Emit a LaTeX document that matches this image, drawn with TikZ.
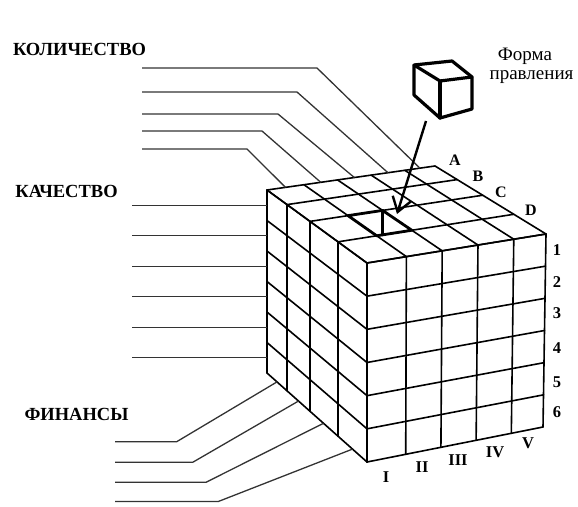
\documentclass[tikz,border=0pt]{standalone}
\usepackage{fontspec}
\setmainfont{Liberation Serif}
\usetikzlibrary{calc,arrows.meta,intersections}
\begin{document}
\begin{tikzpicture}[x=1pt,y=-1pt,
  grid/.style={line width=1.6pt,line join=round,line cap=round},
  lbl/.style={line width=1.3pt,draw=black!80,line join=round},
  icon/.style={line width=3.2pt,line join=round,line cap=round},
  hl/.style={line width=2.8pt,line join=round,line cap=round},
  big/.style={font=\fontsize{18.5}{20}\selectfont\bfseries,inner sep=0pt,anchor=base},
  letterlbl/.style={font=\fontsize{16}{18}\selectfont\bfseries,inner sep=0pt},
  numlbl/.style={font=\fontsize{16.5}{18}\selectfont\bfseries,inner sep=0pt},
  formlbl/.style={font=\fontsize{19}{21}\selectfont,inner sep=0pt,anchor=base}]
\useasboundingbox (0,0) rectangle (578,506);
% cube corners
\coordinate (FTL) at (367,263);
\coordinate (FTR) at (546,234);
\coordinate (FBL) at (367,462);
\coordinate (FBR) at (543,427);
\coordinate (BTL) at (267,190);
\coordinate (BBL) at (267,373);
\coordinate (BTR) at (435,166);
% top face
\foreach \u in {0,0.22,0.42,0.62,0.82,1}
  \draw[grid] ($(FTL)!\u!(FTR)$) -- ($(BTL)!\u!(BTR)$);
\foreach \w in {0,0.29,0.57,0.8,1}
  \draw[grid] ($(FTL)!\w!(BTL)$) -- ($(FTR)!\w!(BTR)$);
% front face
\foreach \u in {0,0.22,0.42,0.62,0.82,1}
  \draw[grid] ($(FTL)!\u!(FTR)$) -- ($(FBL)!\u!(FBR)$);
\foreach \v in {0,0.16667,0.33333,0.5,0.66667,0.83333,1}
  \draw[grid] ($(FTL)!\v!(FBL)$) -- ($(FTR)!\v!(FBR)$);
% left face
\foreach \w in {0,0.29,0.57,0.8,1}
  \draw[grid] ($(FTL)!\w!(BTL)$) -- ($(FBL)!\w!(BBL)$);
\foreach \v in {0,0.16667,0.33333,0.5,0.66667,0.83333,1}
  \draw[grid] ($(FTL)!\v!(FBL)$) -- ($(BTL)!\v!(BBL)$);
% highlighted cell (column II, row C)
\coordinate (fa) at ($(FTL)!0.22!(FTR)$);
\coordinate (fb) at ($(FTL)!0.42!(FTR)$);
\coordinate (ba) at ($(BTL)!0.22!(BTR)$);
\coordinate (bb) at ($(BTL)!0.42!(BTR)$);
\coordinate (hbl) at ($(fa)!0.57!(ba)$);
\coordinate (hbr) at ($(fb)!0.57!(bb)$);
\coordinate (hfl) at ($(fa)!0.29!(ba)$);
\coordinate (hfr) at ($(fb)!0.29!(bb)$);
\draw[hl] (hbl) -- (hbr) -- (hfr) -- (hfl) -- cycle;
\path[name path=fe] (hfl) -- (hfr);
\path[name path=vl] (hbr) -- ++(0,40);
\draw[hl,name intersections={of=fe and vl,by=hx}] (hbr) -- (hx);
% КОЛИЧЕСТВО lines
\draw[lbl] (142,68) -- (317,68) -- ($(BTL)!0.91!(BTR)$);
\draw[lbl] (142,92) -- (297,92) -- ($(BTL)!0.72!(BTR)$);
\draw[lbl] (142,114) -- (278,114) -- ($(BTL)!0.52!(BTR)$);
\draw[lbl] (142,131) -- (262,131) -- ($(BTL)!0.32!(BTR)$);
\draw[lbl] (142,149) -- (247,149) -- ($(BTL)!0.11!(BTR)$);
% КАЧЕСТВО lines
\foreach \v in {0.0833,0.25,0.4167,0.5833,0.75,0.9167}
  \draw[lbl] ($(BTL)!\v!(BBL)$) -- ++(-135,0);
% ФИНАНСЫ lines
\draw[lbl] (115,441.7) -- (176.7,441.7) -- ($(FBL)!0.9!(BBL)$);
\draw[lbl] (115,462.3) -- (192.7,462.3) -- ($(FBL)!0.685!(BBL)$);
\draw[lbl] (115,482.3) -- (206,482.3) -- ($(FBL)!0.435!(BBL)$);
\draw[lbl] (115,501.5) -- (218.3,501.5) -- ($(FBL)!0.145!(BBL)$);
% small cube icon
\coordinate (iA) at (414,65);
\coordinate (iB) at (452,61);
\coordinate (iC) at (472,77);
\coordinate (iD) at (440,81);
\coordinate (iE) at (472,109);
\coordinate (iF) at (440,118);
\coordinate (iG) at (414,95);
\draw[icon] (iA) -- (iB) -- (iC) -- (iE) -- (iF) -- (iG) -- cycle;
\draw[icon] (iA) -- (iD) -- (iC);
\draw[icon] (iD) -- (iF);
% arrow
\coordinate (arS) at (426,121);
\coordinate (arE) at (397,214);
\draw[line width=2.4pt,-{Straight Barb[length=14pt,width=19pt,line width=2.4pt]}] (arS) -- (arE);
% texts
\node[big] (kol) at (79.5,55) {КОЛИЧЕСТВО};
\node[big] (kach) at (66.5,197) {КАЧЕСТВО};
\node[big] (fin) at (76.5,420.5) {ФИНАНСЫ};
\node[formlbl] (forma) at (525,60.5) {Форма};
\node[formlbl] (prav) at (531.5,79) {правления};
\node[letterlbl] (lA) at (455,160) {A};
\node[letterlbl] (lB) at (478,176) {B};
\node[letterlbl] (lC) at (501,192.5) {C};
\node[letterlbl] (lD) at (531,210) {D};
\node[numlbl] (n1) at (557,250) {1};
\node[numlbl] (n2) at (557,282) {2};
\node[numlbl] (n3) at (557,313) {3};
\node[numlbl] (n4) at (557,348) {4};
\node[numlbl] (n5) at (557,382) {5};
\node[numlbl] (n6) at (557,412) {6};
\node[numlbl] (r1) at (386,477) {I};
\node[numlbl] (r2) at (422,467) {II};
\node[numlbl] (r3) at (458,460) {III};
\node[numlbl] (r4) at (495,452) {IV};
\node[numlbl] (r5) at (528,443) {V};
\end{tikzpicture}
\end{document}
